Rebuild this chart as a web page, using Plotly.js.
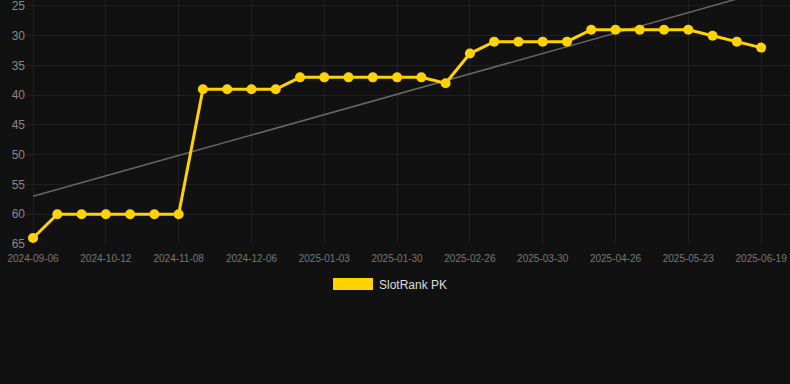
<!DOCTYPE html>
<html>
<head>
<meta charset="utf-8">
<script src="https://cdn.plot.ly/plotly-3.0.1.min.js"></script>
<style>
html,body{margin:0;padding:0;background:#111111;}
#chart{width:790px;height:384px;}
</style>
</head>
<body>
<div id="chart"></div>
<script>
const dates = [
  "2024-09-06","2024-09-18","2024-09-30","2024-10-12","2024-10-21","2024-10-30",
  "2024-11-08","2024-11-17","2024-11-27","2024-12-06","2024-12-15","2024-12-24",
  "2025-01-03","2025-01-12","2025-01-21","2025-01-30","2025-02-08","2025-02-17",
  "2025-02-26","2025-03-08","2025-03-19","2025-03-30","2025-04-08","2025-04-17",
  "2025-04-26","2025-05-05","2025-05-14","2025-05-23","2025-06-01","2025-06-10",
  "2025-06-19"
];
const ranks = [64,60,60,60,60,60,60,39,39,39,39,37,37,37,37,37,37,38,33,31,31,31,31,29,29,29,29,29,30,31,32];
const seriesName = "SlotRank PK";
const yTicks = [25,30,35,40,45,50,55,60,65];

// least-squares trend line over the series
const n = ranks.length;
const idx = ranks.map((_, i) => i);
const mx = idx.reduce((a,b)=>a+b,0)/n;
const my = ranks.reduce((a,b)=>a+b,0)/n;
let sxy = 0, sxx = 0;
for (let i = 0; i < n; i++) { sxy += (i-mx)*(ranks[i]-my); sxx += (i-mx)*(i-mx); }
const slope = sxy/sxx, icpt = my - slope*mx;
const trend = idx.map(i => icpt + slope*i);

const tickDates = dates.filter((_, i) => i % 3 === 0);

const traces = [
  {
    x: dates, y: trend, type: 'scatter', mode: 'lines',
    line: {color: '#666666', width: 1.5}, hoverinfo: 'skip', showlegend: false
  },
  {
    x: dates, y: ranks, type: 'scatter', mode: 'lines+markers', name: seriesName,
    line: {color: '#ffd200', width: 3},
    marker: {color: '#ffd200', size: 10},
    showlegend: false
  }
];

const layout = {
  width: 790, height: 384,
  paper_bgcolor: '#111111', plot_bgcolor: '#111111',
  margin: {l: 26, r: 0, t: 0, b: 140},
  font: {family: 'Liberation Sans, Arial, sans-serif', color: '#777777'},
  xaxis: {
    type: 'category', range: [-0.29, 31.19],
    tickvals: tickDates, ticktext: tickDates,
    tickfont: {size: 10, color: '#777777'},
    ticklabelstandoff: 7,
    showgrid: true, gridcolor: '#202020', gridwidth: 1,
    zeroline: false, showline: false, ticks: ''
  },
  yaxis: {
    range: [65, 24], tickvals: yTicks, ticktext: yTicks.map(String),
    tickfont: {size: 12, color: '#888888'},
    ticklabeloverflow: 'allow',
    showgrid: true, gridcolor: '#202020', gridwidth: 1,
    zeroline: false, showline: false, ticks: ''
  },
  shapes: [
    {type: 'rect', xref: 'paper', yref: 'paper',
     x0: (333-26)/764, x1: (373-26)/764, y0: (384-140-290)/244 , y1: (384-140-278)/244,
     fillcolor: '#ffd200', line: {width: 0}}
  ],
  annotations: [
    {xref: 'paper', yref: 'paper', x: (377-26)/764, y: (384-140-284.5)/244,
     xanchor: 'left', yanchor: 'middle', showarrow: false, text: seriesName,
     font: {size: 12, color: '#dddddd'}}
  ]
};

Plotly.newPlot('chart', traces, layout, {displayModeBar: false, staticPlot: true});
</script>
</body>
</html>
